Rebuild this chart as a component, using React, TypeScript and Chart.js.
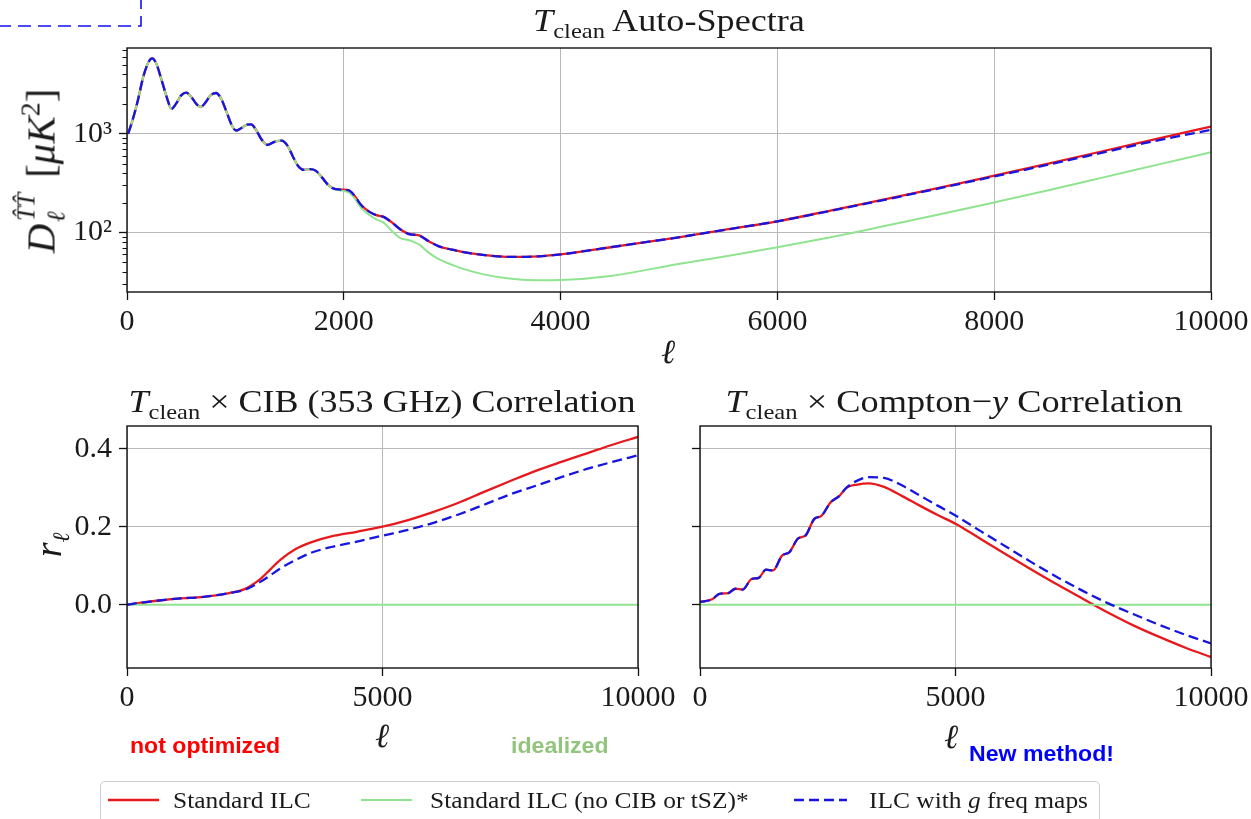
import React, { useEffect, useRef } from "react";
import { Chart, registerables } from "chart.js";

Chart.register(...registerables);

// ---------- T_clean auto-spectra (top panel) ----------
const ellTT = [
  10, 50, 100, 150, 200, 232, 270, 320, 370, 410, 450, 500, 547, 600, 650, 680, 720, 770, 822, 870,
  920, 970, 1006, 1060, 1110, 1144, 1190, 1240, 1297, 1360, 1428, 1480, 1530, 1580, 1633, 1690, 1740,
  1800, 1860, 1924, 1980, 2046, 2100, 2160, 2245, 2300, 2367, 2450, 2520, 2596, 2650, 2700, 2780, 2872,
  3000, 3116, 3300, 3546, 3800, 4000, 4461, 5073, 5500, 6000, 6500, 7000, 7500, 8000, 8500, 9000, 9500,
  10000,
];
const ttStandard = [
  1000, 1360, 2180, 3770, 5360, 5800, 5150, 3480, 2290, 1790, 2000, 2450, 2610, 2300, 1950, 1870, 2050,
  2450, 2590, 2250, 1650, 1200, 1080, 1150, 1240, 1245, 1100, 880, 773, 830, 855, 760, 590, 470, 431,
  440, 424, 360, 300, 275, 272, 268, 235, 190, 160, 150, 144, 125, 108, 97, 95, 93, 82, 73, 67, 63, 59,
  56.6, 57.5, 60, 71, 89, 106, 130, 168, 218, 285, 377, 500, 666, 890, 1186,
];
const ttIdeal = [
  1000, 1360, 2180, 3770, 5360, 5800, 5150, 3480, 2290, 1790, 2000, 2450, 2610, 2300, 1950, 1870, 2050,
  2450, 2590, 2250, 1650, 1200, 1080, 1150, 1240, 1245, 1100, 880, 773, 830, 855, 760, 590, 470, 431,
  440, 424, 360, 300, 272, 266, 255, 222, 178, 148, 136, 126, 102, 88, 84, 80, 75, 63, 54, 47, 42.4,
  37.5, 34, 32.8, 33, 36.3, 47.8, 57, 71, 90, 117, 153, 202, 268, 360, 485, 650,
];
const ttGfreq = [
  1000, 1360, 2180, 3770, 5360, 5800, 5150, 3480, 2290, 1790, 2000, 2450, 2610, 2300, 1950, 1870, 2050,
  2450, 2590, 2250, 1650, 1200, 1080, 1150, 1240, 1245, 1100, 880, 773, 830, 855, 760, 590, 470, 431,
  440, 424, 360, 300, 275, 272, 268, 235, 190, 160, 150, 144, 125, 108, 97, 95, 93, 82, 73, 67, 63, 59,
  56.6, 57.5, 60, 71, 89, 106, 130, 167, 216, 282, 370, 487, 645, 855, 1098,
];

// ---------- T_clean x CIB (353 GHz) correlation ----------
const ellCIB = [
  0, 250, 500, 1000, 1500, 2000, 2300, 2600, 2800, 3000, 3300, 3600, 4000, 4500, 5000, 5500, 6000, 6500,
  7000, 7500, 8000, 8500, 9000, 9500, 10000,
];
const cibStandard = [
  0, 0.005, 0.009, 0.016, 0.02, 0.03, 0.04, 0.065, 0.09, 0.115, 0.143, 0.16, 0.175, 0.187, 0.2, 0.217,
  0.238, 0.262, 0.29, 0.317, 0.343, 0.366, 0.388, 0.41, 0.43,
];
const cibIdeal = ellCIB.map(() => 0);
const cibGfreq = [
  0, 0.005, 0.009, 0.016, 0.02, 0.03, 0.038, 0.058, 0.075, 0.093, 0.115, 0.133, 0.148, 0.162, 0.177,
  0.192, 0.21, 0.232, 0.257, 0.283, 0.305, 0.327, 0.348, 0.366, 0.383,
];

// ---------- T_clean x Compton-y correlation ----------
const ellY = [
  0, 238, 379, 554, 694, 834, 1010, 1150, 1290, 1430, 1606, 1746, 1921, 2062, 2237, 2377, 2553, 2728,
  2868, 3079, 3300, 3600, 3950, 4300, 4650, 5007, 5500, 6000, 6500, 7000, 7500, 8000, 8500, 9000, 9500,
  10000,
];
const yStandard = [
  0.007, 0.014, 0.028, 0.03, 0.041, 0.039, 0.066, 0.069, 0.09, 0.088, 0.126, 0.134, 0.17, 0.177, 0.22,
  0.228, 0.262, 0.279, 0.3, 0.308, 0.311, 0.302, 0.279, 0.254, 0.23, 0.207, 0.168, 0.128, 0.089, 0.051,
  0.015, -0.021, -0.054, -0.083, -0.11, -0.134,
];
const yIdeal = ellY.map(() => 0);
const yGfreq = [
  0.007, 0.014, 0.028, 0.03, 0.041, 0.039, 0.066, 0.069, 0.09, 0.088, 0.126, 0.134, 0.17, 0.177, 0.22,
  0.228, 0.262, 0.279, 0.3, 0.318, 0.327, 0.325, 0.306, 0.28, 0.254, 0.228, 0.188, 0.148, 0.108, 0.07,
  0.035, 0.003, -0.025, -0.052, -0.077, -0.099,
];

// ---------- axis ticks ----------
const xTicksTop = [0, 2000, 4000, 6000, 8000, 10000];
const xTicksBottom = [0, 5000, 10000];
const rTicks = [0, 0.2, 0.4];
const logMajor = [100, 1000];
const logMinor = [30, 40, 50, 60, 70, 80, 90, 200, 300, 400, 500, 600, 700, 800, 900, 2000, 3000, 4000, 5000, 6000, 7000];
const logLabels: Record<number, string> = { 100: "10²", 1000: "10³" };

const legendLabels = ["Standard ILC", "Standard ILC (no CIB or tSZ)*", "ILC with ", " freq maps"];

const RED = "#e8191c";
const GREEN = "#90e48f";
const BLUE = "#1616e0";
const GRID = "#b8b8b8";
const SERIF = "'Liberation Serif', 'Times New Roman', serif";
const SANS = "'Liberation Sans', Arial, sans-serif";

function line(xs: number[], ys: number[], color: string, width: number, dash: number[], order: number) {
  return {
    data: xs.map((x, i) => ({ x, y: ys[i] })),
    borderColor: color,
    borderWidth: width,
    borderDash: dash,
    pointRadius: 0,
    fill: false,
    cubicInterpolationMode: "monotone" as const,
    order,
  };
}

// axes frame (all four spines) and short minor ticks on the log axis
const framePlugin = {
  id: "frame",
  afterDraw(chart: any) {
    const { ctx, chartArea } = chart;
    const minor: number[] = chart.options.plugins.frame?.minor || [];
    ctx.save();
    ctx.strokeStyle = "#111";
    ctx.lineWidth = 1.4;
    ctx.strokeRect(chartArea.left, chartArea.top, chartArea.right - chartArea.left, chartArea.bottom - chartArea.top);
    if (minor.length) {
      const ys = chart.scales.y;
      ctx.lineWidth = 1;
      ctx.beginPath();
      minor.forEach((v) => {
        const py = Math.round(ys.getPixelForValue(v)) + 0.5;
        ctx.moveTo(chartArea.left, py);
        ctx.lineTo(chartArea.left - 4.5, py);
      });
      ctx.stroke();
    }
    ctx.restore();
  },
};

type PanelSpec = {
  datasets: any[];
  xTicks: number[];
  yScale: any;
  yWidth: number;
  xHeight: number;
  padding: { left: number; right: number; top: number; bottom: number };
  minor?: number[];
};

function buildConfig(spec: PanelSpec): any {
  return {
    type: "line",
    data: { datasets: spec.datasets },
    plugins: [framePlugin],
    options: {
      animation: false,
      responsive: false,
      events: [],
      layout: { padding: spec.padding },
      plugins: { legend: { display: false }, tooltip: { enabled: false }, frame: { minor: spec.minor || [] } },
      scales: {
        x: {
          type: "linear",
          min: 0,
          max: 10000,
          afterBuildTicks: (s: any) => {
            s.ticks = spec.xTicks.map((v) => ({ value: v }));
          },
          afterFit: (s: any) => {
            s.height = spec.xHeight;
            s.paddingLeft = 0;
            s.paddingRight = 0;
          },
          ticks: {
            autoSkip: false,
            maxRotation: 0,
            padding: 4,
            color: "#1a1a1a",
            font: { family: SERIF, size: 30 },
            callback: (v: number) => String(v),
          },
          grid: { color: GRID, lineWidth: 1, tickLength: 8, tickColor: "#111", tickWidth: 1.3 },
          border: { display: false },
        },
        y: {
          ...spec.yScale,
          afterFit: (s: any) => {
            s.width = spec.yWidth;
            s.paddingTop = 0;
            s.paddingBottom = 0;
          },
          border: { display: false },
        },
      },
    },
  };
}

function Panel(props: { left: number; top: number; width: number; height: number; spec: PanelSpec }) {
  const ref = useRef<HTMLCanvasElement | null>(null);
  useEffect(() => {
    if (!ref.current) return;
    const chart = new Chart(ref.current, buildConfig(props.spec));
    return () => chart.destroy();
  }, []);
  return (
    <canvas
      ref={ref}
      width={props.width}
      height={props.height}
      style={{ position: "absolute", left: props.left, top: props.top, width: props.width, height: props.height }}
    />
  );
}

const corrY = (showLabels: boolean) => ({
  type: "linear",
  min: -0.162,
  max: 0.458,
  afterBuildTicks: (s: any) => {
    s.ticks = rTicks.map((v) => ({ value: v }));
  },
  ticks: {
    autoSkip: false,
    padding: 7,
    color: "#1a1a1a",
    font: { family: SERIF, size: 30 },
    callback: (v: number) => (showLabels ? v.toFixed(1) : ""),
  },
  grid: { color: GRID, lineWidth: 1, tickLength: 8, tickColor: "#111", tickWidth: 1.3 },
});

const topSpec: PanelSpec = {
  datasets: [
    line(ellTT, ttStandard, RED, 2.3, [], 2),
    line(ellTT, ttIdeal, GREEN, 2, [], 1),
    line(ellTT, ttGfreq, BLUE, 2.3, [10, 5], 0),
  ],
  xTicks: xTicksTop,
  yScale: {
    type: "logarithmic",
    min: 25,
    max: 7400,
    afterBuildTicks: (s: any) => {
      s.ticks = [...logMajor].map((v) => ({ value: v }));
    },
    ticks: {
      autoSkip: false,
      padding: 7,
      color: "#1a1a1a",
      font: { family: SERIF, size: 30 },
      callback: (v: number) => logLabels[v] || "",
    },
    grid: { color: GRID, lineWidth: 1, tickLength: 8, tickColor: "#111", tickWidth: 1.3 },
  },
  yWidth: 127,
  xHeight: 48,
  padding: { left: 0, right: 40, top: 8, bottom: 0 },
  minor: logMinor,
};

const cibSpec: PanelSpec = {
  datasets: [
    line(ellCIB, cibStandard, RED, 2.3, [], 2),
    line(ellCIB, cibIdeal, GREEN, 2, [], 1),
    line(ellCIB, cibGfreq, BLUE, 2.3, [10, 5], 0),
  ],
  xTicks: xTicksBottom,
  yScale: corrY(true),
  yWidth: 127,
  xHeight: 62,
  padding: { left: 0, right: 62, top: 26, bottom: 0 },
};

const ySpec: PanelSpec = {
  datasets: [
    line(ellY, yStandard, RED, 2.3, [], 2),
    line(ellY, yIdeal, GREEN, 2, [], 1),
    line(ellY, yGfreq, BLUE, 2.3, [10, 5], 0),
  ],
  xTicks: xTicksBottom,
  yScale: corrY(false),
  yWidth: 40,
  xHeight: 62,
  padding: { left: 0, right: 40, top: 26, bottom: 0 },
};

const Sub = (p: { children: any; size?: number; dy?: number }) => (
  <span style={{ fontSize: `${p.size ?? 0.68}em`, position: "relative", top: `${p.dy ?? 0.3}em` }}>{p.children}</span>
);

const abs = (left: number, top: number, extra: any = {}) => ({
  position: "absolute" as const,
  left,
  top,
  whiteSpace: "nowrap" as const,
  lineHeight: 1,
  ...extra,
});

export default function App() {
  return (
    <div style={{ position: "absolute", left: 0, top: 0, width: 1251, height: 819, overflow: "hidden", background: "#fff", fontFamily: SERIF, color: "#1a1a1a" }}>
      <Panel left={0} top={40} width={1251} height={300} spec={topSpec} />
      <Panel left={0} top={400} width={700} height={330} spec={cibSpec} />
      <Panel left={660} top={400} width={591} height={330} spec={ySpec} />

      {/* panel titles */}
      <div style={abs(669, 4, { fontSize: 32, transform: "translateX(-50%) scaleX(1.13)" })}>
        <i>T</i>
        <Sub>clean</Sub> Auto-Spectra
      </div>
      <div style={abs(382, 385, { fontSize: 32, transform: "translateX(-50%) scaleX(1.125)" })}>
        <i>T</i>
        <Sub>clean</Sub> × CIB (353 GHz) Correlation
      </div>
      <div style={abs(954, 385, { fontSize: 32, transform: "translateX(-50%) scaleX(1.135)" })}>
        <i>T</i>
        <Sub>clean</Sub> × Compton−<i>y</i> Correlation
      </div>

      {/* axis titles */}
      <div style={abs(668, 335, { fontSize: 34, fontStyle: "italic", transform: "translateX(-50%)" })}>ℓ</div>
      <div style={abs(382, 719, { fontSize: 34, fontStyle: "italic", transform: "translateX(-50%)" })}>ℓ</div>
      <div style={abs(951, 720, { fontSize: 34, fontStyle: "italic", transform: "translateX(-50%)" })}>ℓ</div>
      <div style={abs(41, 171, { fontSize: 41, transform: "translate(-50%, -50%) rotate(-90deg)" })}>
        <i>D</i>
        <span style={{ display: "inline-block", position: "relative", fontSize: "0.62em", width: "1.4em", height: "1em" }}>
          <span style={{ position: "absolute", left: "0.1em", top: "-0.6em", fontStyle: "italic" }}>T̂T̂</span>
          <span style={{ position: "absolute", left: "0.05em", top: "0.55em", fontStyle: "italic" }}>ℓ</span>
        </span>
        {" "}[<i>μK</i>
        <span style={{ fontSize: "0.68em", position: "relative", top: "-0.55em" }}>2</span>]
      </div>
      <div style={abs(48, 545, { fontSize: 38, transform: "translate(-50%, -50%) rotate(-90deg)" })}>
        <i>r</i>
        <Sub size={0.62} dy={0.35}>
          <i>ℓ</i>
        </Sub>
      </div>

      {/* slide annotations */}
      <div style={abs(130, 735, { fontFamily: SANS, fontWeight: 700, fontSize: 22, color: "#ff0000", transform: "scaleX(1.05)", transformOrigin: "left" })}>not optimized</div>
      <div style={abs(511, 735, { fontFamily: SANS, fontWeight: 700, fontSize: 22, color: "#93c47d", transform: "scaleX(1.05)", transformOrigin: "left" })}>idealized</div>
      <div style={abs(969, 743, { fontFamily: SANS, fontWeight: 700, fontSize: 22, color: "#0000ff", transform: "scaleX(1.05)", transformOrigin: "left" })}>New method!</div>

      {/* legend */}
      <div style={{ position: "absolute", left: 100, top: 781, width: 1000, height: 70, border: "1px solid #cfcfcf", borderRadius: 5, boxSizing: "border-box" }} />
      <svg width={1251} height={819} style={{ position: "absolute", left: 0, top: 0, pointerEvents: "none" }}>
        <line x1={108} y1={800} x2={159} y2={800} stroke={RED} strokeWidth={2.5} />
        <line x1={361} y1={800} x2={412} y2={800} stroke={GREEN} strokeWidth={2.2} />
        <line x1={794} y1={800} x2={847} y2={800} stroke={BLUE} strokeWidth={2.5} strokeDasharray="10 5" />
        <path d="M -2 26 H 141 V -2" fill="none" stroke="#1010f0" strokeWidth={1.6} strokeDasharray="13 7" />
      </svg>
      <div style={abs(173, 788, { fontSize: 24, transform: "scaleX(1.06)", transformOrigin: "left" })}>{legendLabels[0]}</div>
      <div style={abs(430, 788, { fontSize: 24, transform: "scaleX(1.06)", transformOrigin: "left" })}>{legendLabels[1]}</div>
      <div style={abs(869, 788, { fontSize: 24, transform: "scaleX(1.06)", transformOrigin: "left" })}>
        {legendLabels[2]}
        <i>g</i>
        {legendLabels[3]}
      </div>
    </div>
  );
}
